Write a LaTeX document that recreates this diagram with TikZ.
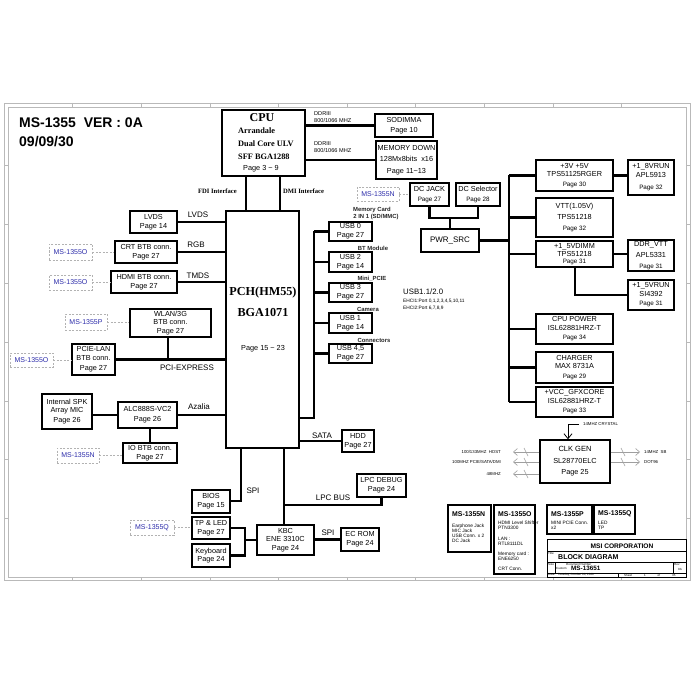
\documentclass[tikz,border=0pt]{standalone}
\usepackage{fontspec}
\setmainfont{Liberation Sans}
\newfontfamily\serifb{Liberation Serif}
\usetikzlibrary{arrows.meta,calc}
\definecolor{msblue}{RGB}{45,45,170}
\newcommand\BX[6]{\node[bx,minimum width={(#4-#2)*1pt},minimum height={(#5-#3)*1pt}] (#1) at ({(#2+#4)/2},{(#3+#5)/2}) {#6};}
\newcommand\MSB[6]{\node[ms,minimum width={(#4-#2)*1pt},minimum height={(#5-#3)*1pt}] (#1) at ({(#2+#4)/2},{(#3+#5)/2}) {#6};}
\newcommand\TBX[5]{\node[tb,minimum width={(#4-#2)*1pt},minimum height={(#5-#3)*1pt}] (#1) at ({(#2+#4)/2},{(#3+#5)/2}) {};}
\newcommand\pg{\fontsize{6.3}{7.5}\selectfont}
\begin{document}
\begin{tikzpicture}[x=1pt,y=-1pt,
  bx/.style={draw,line width=1.3pt,inner sep=0pt,align=center,font=\fontsize{7.3}{8.6}\selectfont},
  tb/.style={draw,line width=1.3pt,inner sep=0pt},
  conn/.style={line width=2.2pt},
  ms/.style={draw=gray!60,dash pattern=on 2pt off 1.5pt,line width=0.6pt,inner sep=0pt,text=msblue,font=\fontsize{7}{8}\selectfont},
  msl/.style={draw=gray!60,dash pattern=on 2pt off 1.5pt,line width=0.6pt},
  lbl/.style={font=\fontsize{8}{9}\selectfont,inner sep=0pt},
  sml/.style={font=\bfseries\fontsize{5.9}{6.5}\selectfont,inner sep=0pt,text=black!85},
  ddr/.style={font=\fontsize{5.6}{6}\selectfont,inner sep=0pt},
  tiny/.style={font=\fontsize{4.3}{5}\selectfont,inner sep=0pt},
  tcell/.style={font=\fontsize{4.8}{5}\selectfont,inner sep=0pt,align=left},
  tbh/.style={font=\bfseries\fontsize{6.9}{7}\selectfont,inner sep=0pt},
  micro/.style={font=\fontsize{3}{3.5}\selectfont,inner sep=0pt},
  serl/.style={font=\serifb\bfseries\fontsize{8.3}{9}\selectfont,inner sep=0pt},
  carrow/.style={draw=gray!75,line width=0.6pt,-{Straight Barb[length=4pt,width=7pt]}},
  frame/.style={draw=gray!55,line width=0.5pt}]
\useasboundingbox (0,0) rectangle (700,700);
\fill[white] (0,0) rectangle (700,700);
% frame
\draw[frame] (4,103) rectangle (690,580);
\draw[frame] (8,107) rectangle (686,577);
\foreach \i in {1,...,9}{
  \draw[frame] (4+68.6*\i,103) -- (4+68.6*\i,107);
  \draw[frame] (4+68.6*\i,577) -- (4+68.6*\i,580);}
\foreach \i in {1,...,7}{
  \draw[frame] (4,107+58.75*\i) -- (8,107+58.75*\i);
  \draw[frame] (686,107+58.75*\i) -- (690,107+58.75*\i);}
% title
\node[anchor=west,font=\bfseries\fontsize{14}{14}\selectfont,inner sep=0pt] (title) at (19,123) {MS-1355\ \ VER : 0A};
\node[anchor=west,font=\bfseries\fontsize{14}{14}\selectfont,inner sep=0pt] (date) at (19,142) {09/09/30};
% CPU
\BX{cpu}{222}{110}{305}{176}{}
\node[font=\serifb\bfseries\fontsize{12}{12}\selectfont,inner sep=0pt] (cpuT) at (262,118) {CPU};
\node[serl,anchor=west] (cpu1) at (238,131) {Arrandale};
\node[serl,anchor=west] (cpu2) at (238,144) {Dual Core ULV};
\node[serl,anchor=west] (cpu3) at (238,157) {SFF BGA1288};
\node[anchor=west,font=\fontsize{7.3}{8}\selectfont,inner sep=0pt] (cpu4) at (243,169) {Page 3 \textasciitilde\ 9};
\BX{sod}{375}{114}{433}{137}{SODIMMA\\[1pt]Page 10}
\BX{memd}{376}{141}{437}{179}{MEMORY DOWN\\[3pt]128Mx8bits\ \ x16\\[3pt]Page 11\textasciitilde13}
\node[ddr,anchor=west] (d1) at (314,114) {DDRIII};
\node[ddr,anchor=west] (d2) at (314,121) {800/1066 MHZ};
\node[ddr,anchor=west] (d3) at (314,144) {DDRIII};
\node[ddr,anchor=west] (d4) at (314,151) {800/1066 MHZ};
\draw[conn] (cpu.east |- sod.west) -- (sod.west);
\draw[conn] (cpu.east |- memd.west) -- (memd.west);
% PCH
\BX{pch}{226}{211}{299}{448}{}
\node[font=\serifb\bfseries\fontsize{12.2}{13}\selectfont,inner sep=0pt] (pch1) at (263,293) {PCH(HM55)};
\node[font=\serifb\bfseries\fontsize{12.2}{13}\selectfont,inner sep=0pt] (pch2) at (263,313) {BGA1071};
\node[font=\fontsize{7.3}{8}\selectfont,inner sep=0pt] (pch3) at (263,349) {Page 15 \textasciitilde\ 23};
\coordinate (fdi) at (246,0);
\coordinate (dmi) at (280,0);
\draw[conn] (fdi |- cpu.south) -- (fdi |- pch.north);
\draw[conn] (dmi |- cpu.south) -- (dmi |- pch.north);
\node[anchor=east,font=\serifb\bfseries\fontsize{6.6}{7}\selectfont,inner sep=0pt] (fdiL) at (237,191) {FDI Interface};
\node[anchor=west,font=\serifb\bfseries\fontsize{6.6}{7}\selectfont,inner sep=0pt] (dmiL) at (283,191) {DMI Interface};
% left side
\BX{lvds}{130}{211}{177}{233}{LVDS\\Page 14}
\BX{crt}{115}{241}{177}{263}{CRT BTB conn.\\Page 27}
\BX{hdmi}{111}{271}{177}{293}{HDMI BTB conn.\\Page 27}
\draw[conn] (lvds.east) -- (lvds.east -| pch.west);
\draw[conn] (crt.east) -- (crt.east -| pch.west);
\draw[conn] (hdmi.east) -- (hdmi.east -| pch.west);
\node[lbl] (lvdsL) at (198,215) {LVDS};
\node[lbl] (rgbL) at (196,245) {RGB};
\node[lbl] (tmdsL) at (198,276) {TMDS};
\MSB{msO1}{49}{244}{92}{260}{MS-1355O}
\MSB{msO2}{49}{275}{92}{290}{MS-1355O}
\draw[msl] (msO1.east) -- (msO1.east -| crt.west);
\draw[msl] (msO2.east) -- (msO2.east -| hdmi.west);
\BX{wlan}{130}{309}{211}{337}{WLAN/3G\\BTB conn.\\Page 27}
\BX{pcie}{72}{344}{115}{375}{PCIE-LAN\\BTB conn.\\[2pt]Page 27}
\MSB{msP1}{65}{314}{107}{330}{MS-1355P}
\MSB{msO3}{10}{353}{53}{367}{MS-1355O}
\draw[msl] (msP1.east) -- (msP1.east -| wlan.west);
\draw[msl] (msO3.east) -- (msO3.east -| pcie.west);
\draw[conn] (pcie.east) -- (pcie.east -| pch.west);
\coordinate (wl) at (168,0);
\draw[conn] (wl |- wlan.south) -- (wl |- pcie.east);
\node[lbl] (pciL) at (187,368) {PCI-EXPRESS};
% audio
\BX{spk}{42}{394}{92}{429}{Internal SPK\\Array MIC\\[1pt]Page 26}
\BX{alc}{118}{402}{177}{428}{ALC888S-VC2\\[1pt]Page 26}
\BX{io}{123}{443}{177}{463}{IO BTB conn.\\Page 27}
\draw[conn] (spk.east |- alc.west) -- (alc.west);
\draw[conn] (alc.east) -- (alc.east -| pch.west);
\draw[conn] (alc.south -| io.north) -- (io.north);
\node[lbl] (azL) at (199,407) {Azalia};
\MSB{msN1}{57}{448}{99}{463}{MS-1355N}
\draw[msl] (msN1.east) -- (msN1.east -| io.west);
% USB
\BX{usb0}{329}{222}{372}{241}{USB 0\\Page 27}
\BX{usb2}{329}{252}{372}{272}{USB 2\\Page 14}
\BX{usb3}{329}{283}{372}{302}{USB 3\\Page 27}
\BX{usb1}{329}{313}{372}{333}{USB 1\\Page 14}
\BX{usb45}{329}{344}{372}{363}{USB 4,5\\Page 27}
\coordinate (ub) at (314,418);
\draw[conn] (ub |- usb0.west) -- (ub) -- (ub -| pch.east);
\foreach \n in {usb0,usb2,usb3,usb1,usb45}{\draw[conn] (ub |- \n.west) -- (\n.west);}
\node[sml] (u0a) at (372,210) {Memory Card};
\node[sml] (u0b) at (376,217) {2 IN 1 (SD/MMC)};
\node[sml] (u2a) at (373,248) {BT Module};
\node[sml] (u3a) at (372,279) {Mini\_PCIE};
\node[sml] (u1a) at (368,309) {Camera};
\node[sml] (u4a) at (374,340) {Connectors};
\node[anchor=west,font=\fontsize{7.8}{8}\selectfont,inner sep=0pt] (usbT) at (403,292) {USB1.1/2.0};
\node[anchor=west,tiny,font=\fontsize{4.8}{5}\selectfont] (ehc1) at (403,301) {EHCI1:Port 0,1,2,3,4,5,10,11};
\node[anchor=west,tiny,font=\fontsize{4.8}{5}\selectfont] (ehc2) at (403,308) {EHCI2:Port 6,7,8,9};
% SATA
\BX{hdd}{342}{430}{374}{452}{HDD\\Page 27}
\draw[conn] (hdd.west -| pch.east) -- (hdd.west);
\node[lbl] (sataL) at (322,436) {SATA};
% SPI / LPC
\BX{bios}{192}{490}{230}{513}{BIOS\\Page 15}
\coordinate (spi) at (241,501);
\draw[conn] (spi |- pch.south) -- (spi) -- (spi -| bios.east);
\node[lbl] (spiL) at (253,491) {SPI};
\BX{lpcd}{357}{474}{406}{497}{LPC DEBUG\\Page 24}
\BX{kbc}{257}{525}{314}{555}{KBC\\ENE 3310C\\Page 24}
\coordinate (lpc) at (284,505);
\draw[conn] (lpc |- pch.south) -- (lpc |- kbc.north);
\draw[conn] (lpc) -- (lpc -| lpcd.south) -- (lpcd.south);
\node[lbl] (lpcL) at (333,498) {LPC BUS};
\BX{ecrom}{341}{528}{379}{551}{EC ROM\\Page 24}
\draw[conn] (kbc.east |- ecrom.west) -- (ecrom.west);
\node[lbl] (spi2L) at (328,533) {SPI};
\BX{tp}{192}{517}{230}{539}{TP \& LED\\Page 27}
\BX{key}{192}{544}{230}{567}{Keyboard\\Page 24}
\coordinate (kb) at (245,540);
\draw[conn] (tp.east) -- (tp.east -| kb) -- (kb |- key.east) -- (key.east);
\draw[conn] (kb |- kbc.west) -- (kbc.west);
\MSB{msQ1}{130}{520}{174}{535}{MS-1355Q}
\draw[msl] (msQ1.east) -- (msQ1.east -| tp.west);
% power
\BX{dcjack}{410}{183}{449}{206}{DC JACK\\[1pt]{\pg Page 27}}
\BX{dcsel}{456}{183}{500}{206}{DC Selector\\[1pt]{\pg Page 28}}
\BX{pwr}{421}{229}{479}{252}{\fontsize{8}{9}\selectfont PWR\_SRC}
\MSB{msN2}{357}{187}{399}{201}{MS-1355N}
\draw[msl] (msN2.east) -- (msN2.east -| dcjack.west);
\coordinate (dcj) at (450,218);
\draw[conn] (dcjack.south) -- (dcjack.south |- dcj) -- (dcsel.south |- dcj) -- (dcsel.south);
\draw[conn] (dcj) -- (dcj |- pwr.north);
\BX{p35}{536}{160}{613}{191}{+3V +5V\\TPS51125RGER\\[1pt]{\pg Page 30}}
\BX{p18}{628}{160}{674}{195}{+1\_8VRUN\\APL5913\\[4pt]{\pg Page 32}}
\BX{vtt}{536}{198}{613}{237}{VTT(1.05V)\\[3pt]TPS51218\\[2pt]{\pg Page 32}}
\BX{dimm}{536}{241}{613}{267}{+1\_5VDIMM\\TPS51218\\[-1.5pt]{\pg Page 31}}
\BX{ddrvtt}{628}{240}{674}{271}{DDR\_VTT\\[3pt]APL5331\\[2pt]{\pg Page 31}}
\BX{p15}{628}{280}{674}{310}{+1\_5VRUN\\SI4392\\[1pt]{\pg Page 31}}
\BX{cpup}{536}{314}{613}{344}{CPU POWER\\ISL62881HRZ-T\\[1pt]{\pg Page 34}}
\BX{chg}{536}{352}{613}{383}{CHARGER\\MAX 8731A\\[1pt]{\pg Page 29}}
\BX{gfx}{536}{387}{613}{417}{+VCC\_GFXCORE\\ISL62881HRZ-T\\[1pt]{\pg Page 33}}
\coordinate (pb) at (509,0);
\draw[conn] (pwr.east) -- (pb |- pwr.east);
\draw[conn] (pb |- p35.west) -- (pb |- gfx.west);
\foreach \n in {p35,vtt,dimm,cpup,chg,gfx}{\draw[conn] (pb |- \n.west) -- (\n.west);}
\draw[conn] (p35.east) -- (p35.east -| p18.west);
\draw[conn] (dimm.east) -- (dimm.east -| ddrvtt.west);
\coordinate (dr) at (575,0);
\draw[conn] (dr |- dimm.south) -- (dr |- p15.west) -- (p15.west);
% clock
\BX{clk}{540}{440}{610}{483}{\fontsize{7.5}{8.5}\selectfont CLK GEN\\[3pt]SL28770ELC\\[3pt]Page 25}
\coordinate (xt) at (579,424);
\coordinate (xc) at (568,424);
\draw[line width=0.8pt,-{Straight Barb[length=5pt,width=8pt]}] (xt) -- (xc) -- (xc |- clk.north);
\node[tiny,anchor=west] (xtl) at (583,424) {14MHZ CRYSTAL};
\coordinate (h1) at (513,452);
\coordinate (h2) at (513,462);
\coordinate (h3) at (513,474);
\coordinate (r1) at (640,452);
\coordinate (r2) at (640,462);
\foreach \c in {h1,h2,h3}{\draw[carrow] (clk.west |- \c) -- (\c);}
\foreach \c in {r1,r2}{\draw[carrow] (clk.east |- \c) -- (\c);}
\foreach \yy in {452,462,474}{\draw[gray!75,line width=0.6pt] (524,\yy-4) -- (528,\yy+4);}
\foreach \yy in {452,462}{\draw[gray!75,line width=0.6pt] (621,\yy-4) -- (625,\yy+4);}
\node[tiny,anchor=east] (hl1) at (501,452) {100/133MHZ\ \ HOST};
\node[tiny,anchor=east] (hl2) at (501,462) {100MHZ PCIE/SATA/DMI};
\node[tiny,anchor=east] (hl3) at (501,474) {48MHZ};
\node[tiny,anchor=west] (rl1) at (644,452) {14MHZ\ \ SB};
\node[tiny,anchor=west] (rl2) at (644,462) {DOT96};
% tables
\TBX{tN}{448}{505}{491}{552}
\node[tbh,anchor=west] (tNh) at (452,514) {MS-1355N};
\node[tcell,anchor=north west] (tNc) at (452,523.5) {Earphone Jack\\MIC Jack\\USB Conn. x 2\\DC Jack};
\TBX{tO}{494}{505}{535}{574}
\node[tbh,anchor=west] (tOh) at (498,514) {MS-1355O};
\node[tcell,anchor=north west] (tOc) at (498,521) {HDMI Level Shifter\\PTN3300\\[5.5pt]LAN :\\RTL8111DL\\[5pt]Memory card :\\ENE6250\\[5pt]CRT Conn.};
\TBX{tP}{547}{505}{592}{534}
\node[tbh,anchor=west] (tPh) at (551,514) {MS-1355P};
\node[tcell,anchor=north west] (tPc) at (551,521) {MINI PCIE Conn.\\x2};
\TBX{tQ}{594}{505}{635}{534}
\node[tbh,anchor=west] (tQh) at (598,514) {MS-1355Q};
\node[tcell,anchor=north west] (tQc) at (598,521) {LED\\TP};
% title block
\draw[line width=0.5pt] (547,539) rectangle (686,577);
\draw[line width=0.5pt] (547,551) -- (686,551);
\draw[line width=0.5pt] (547,562) -- (686,562);
\draw[line width=0.5pt] (547,573) -- (686,573);
\draw[line width=0.5pt] (555,562) -- (555,573);
\draw[line width=0.5pt] (673,562) -- (673,573);
\draw[line width=0.4pt] (618,573) -- (618,577);
\node[font=\bfseries\fontsize{6.6}{7}\selectfont,inner sep=0pt] (msi) at (622,546) {MSI CORPORATION};
\node[micro,anchor=north west] (tt) at (548,552) {Title};
\node[font=\bfseries\fontsize{7}{7}\selectfont,inner sep=0pt,anchor=west] (bd) at (558,557.5) {BLOCK DIAGRAM};
\node[micro,anchor=north west] (sz) at (548,563) {Size};
\node[micro,anchor=west] (cu) at (556,568) {Custom};
\node[micro,anchor=north west] (dn) at (566,563) {Document Number};
\node[font=\bfseries\fontsize{6.3}{7}\selectfont,inner sep=0pt,anchor=west] (dnum) at (571,568.5) {MS-13651};
\node[micro,anchor=north west] (rv) at (674,563) {Rev};
\node[micro] (rvv) at (680,569) {0A};
\node[micro,anchor=west] (dt) at (548,575) {Date:\ \ \ Tuesday, October 06, 2009};
\node[micro,anchor=west] (sh) at (624,575) {Sheet\hspace{12pt}1\hspace{12pt}of\hspace{12pt}35};
\end{tikzpicture}
\end{document}
